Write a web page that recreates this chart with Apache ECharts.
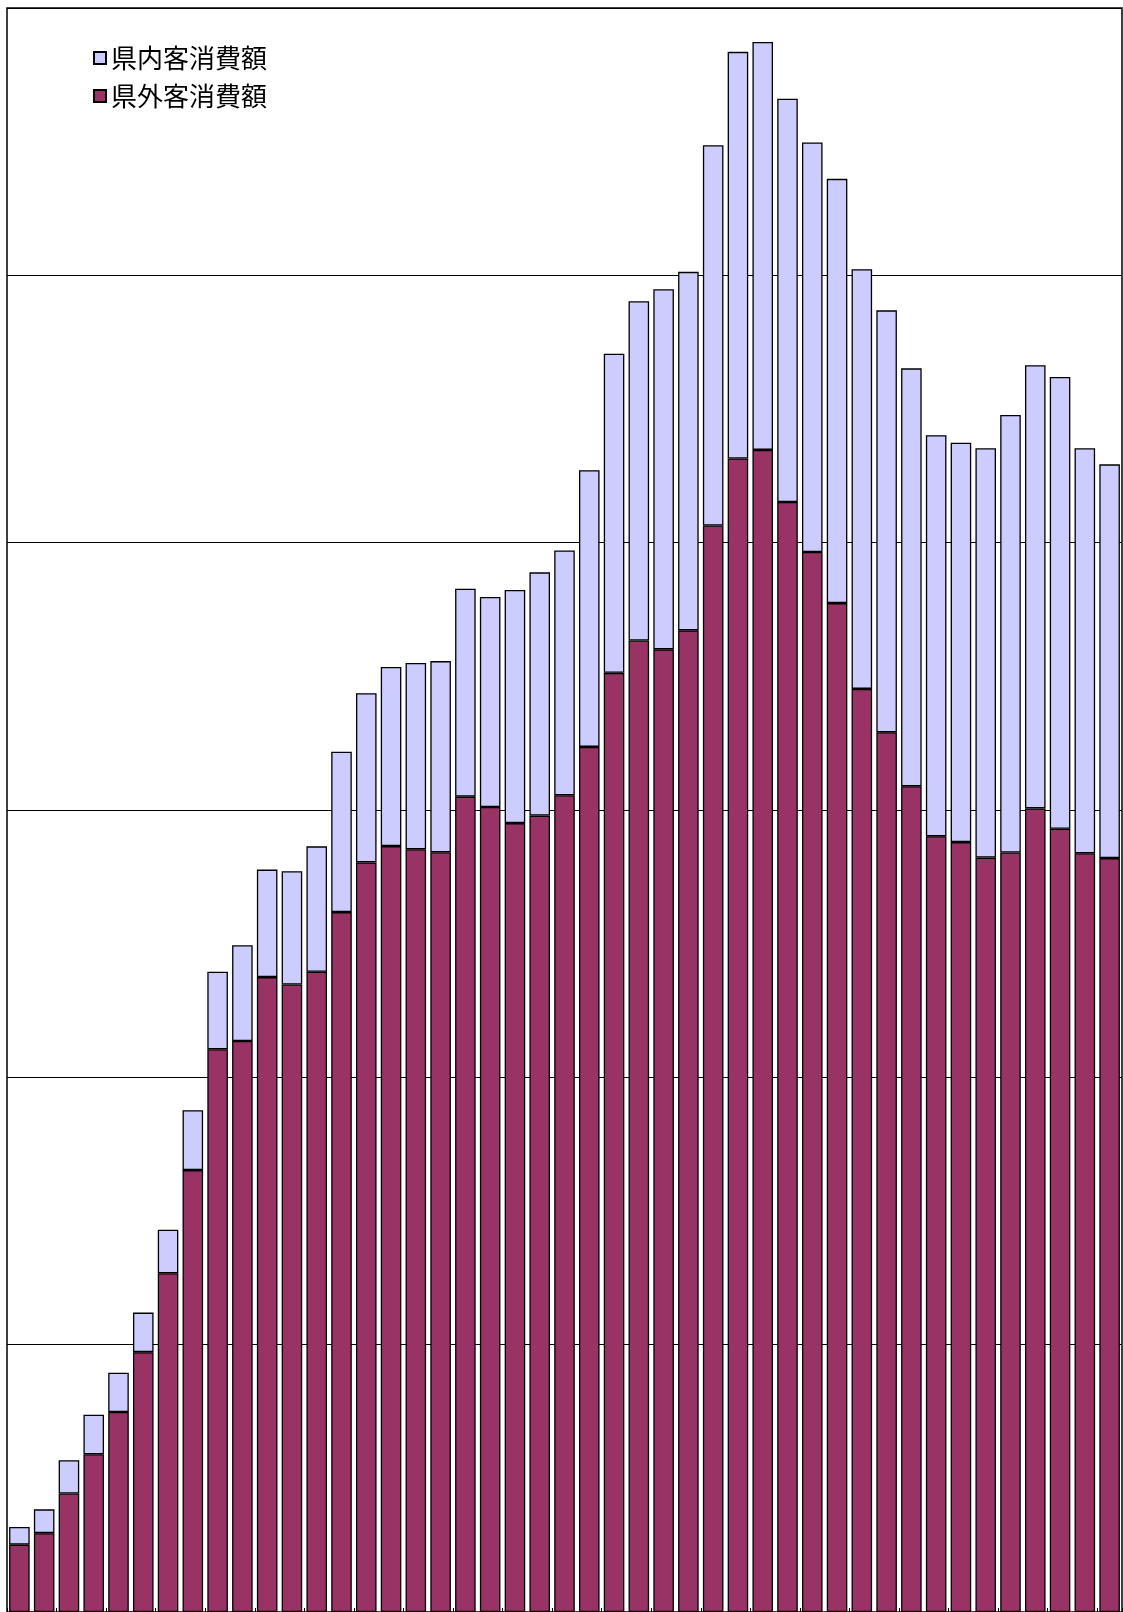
<!DOCTYPE html>
<html>
<head>
<meta charset="utf-8">
<script src="https://cdn.jsdelivr.net/npm/echarts@6/dist/echarts.min.js"></script>
<style>
html,body{margin:0;padding:0;background:#fff;}
#chart{width:1123px;height:1612px;}
</style>
</head>
<body>
<div id="chart"></div>
<script>
// Categories (axis labels are cropped out of the reference; placeholder years)
const categories = ['1965','1966','1967','1968','1969','1970','1971','1972','1973','1974',
  '1975','1976','1977','1978','1979','1980','1981','1982','1983','1984',
  '1985','1986','1987','1988','1989','1990','1991','1992','1993','1994',
  '1995','1996','1997','1998','1999','2000','2001','2002','2003','2004',
  '2005','2006','2007','2008','2009'];

// 県外客消費額 (bottom segment)
const outsideSpend = [252,295,443,590,748,972,1267,1653,2105,2136,
  2375,2347,2395,2618,2804,2865,2853,2842,3050,3011,
  2951,2979,3055,3236,3513,3634,3601,3672,4064,4315,
  4347,4152,3965,3774,3453,3291,3089,2902,2880,2822,
  2841,3006,2930,2838,2820];

// 県内客消費額 (top segment)
const insideSpend = [66,89,125,148,147,148,163,224,290,358,
  402,424,469,600,633,670,697,715,778,786,
  872,910,916,1035,1194,1269,1347,1341,1423,1521,
  1526,1509,1532,1587,1570,1578,1563,1500,1494,1531,
  1637,1658,1690,1515,1473];

const yMin = 0, yMax = 6000, yInterval = 1000;

const chart = echarts.init(document.getElementById('chart'));
chart.setOption({
  animation: false,
  backgroundColor: '#ffffff',
  grid: {
    left: 7, right: 1, top: 8, bottom: 0,
    show: true, borderColor: '#000', borderWidth: 1.5, backgroundColor: 'transparent'
  },
  legend: {
    orient: 'vertical',
    left: 88, top: 40,
    itemWidth: 12, itemHeight: 12, itemGap: 12,
    data: ['県内客消費額', '県外客消費額'],
    textStyle: { fontFamily: '"Noto Sans CJK JP", sans-serif', fontSize: 26, color: '#000', padding: [0,0,0,0] },
    icon: 'rect'
  },
  xAxis: {
    type: 'category',
    data: categories,
    axisLine: { show: true, lineStyle: { color: '#000' } },
    axisTick: { show: true, inside: true, length: 4, lineStyle: { color: '#000' } },
    axisLabel: { show: false },
    splitLine: { show: false }
  },
  yAxis: {
    type: 'value',
    min: yMin, max: yMax, interval: yInterval,
    axisLine: { show: false },
    axisTick: { show: false },
    axisLabel: { show: false },
    splitLine: { show: true, lineStyle: { color: '#000', width: 1.2 } }
  },
  series: [
    {
      name: '県外客消費額', type: 'bar', stack: 'total',
      data: outsideSpend, barCategoryGap: '17%',
      itemStyle: { color: '#993366', borderColor: '#000', borderWidth: 1.3 }
    },
    {
      name: '県内客消費額', type: 'bar', stack: 'total',
      data: insideSpend, barCategoryGap: '17%',
      itemStyle: { color: '#CCCCFF', borderColor: '#000', borderWidth: 1.3 }
    }
  ]
});
</script>
</body>
</html>
